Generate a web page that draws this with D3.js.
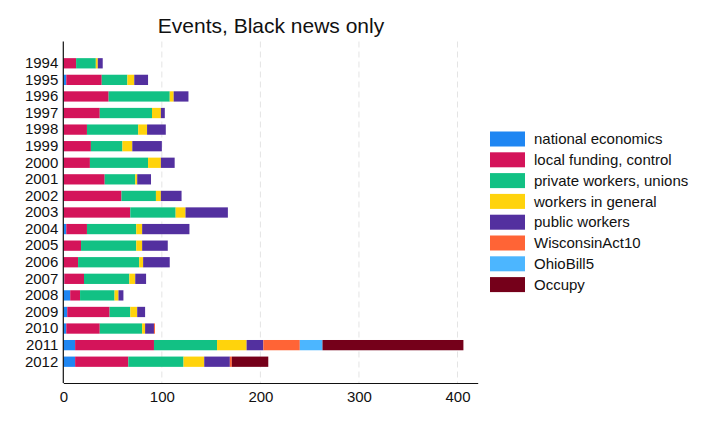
<!DOCTYPE html>
<html>
<head>
<meta charset="utf-8">
<script src="https://cdn.jsdelivr.net/npm/d3@7"></script>
<style>
  body { margin: 0; background: #fff; }
  text { font-family: "Liberation Sans", Arial, sans-serif; fill: #111; }
</style>
</head>
<body>
<div id="chart"></div>
<script>
// Years (rows)
const years = ["1994","1995","1996","1997","1998","1999","2000","2001","2002","2003",
               "2004","2005","2006","2007","2008","2009","2010","2011","2012"];

// Series labels and colours
const categories = ["national economics","local funding, control","private workers, unions",
                    "workers in general","public workers","WisconsinAct10","OhioBill5","Occupy"];
const colors = ["#1f86f2","#d4145a","#12c184","#ffd30c","#53309f","#ff6436","#4cb6ff","#75001a"];

// Values, one array per series (same order as years)
const nationalEconomics = [0,3,0,0,0,0,0,0,0,0,3,0,0,1,7,4,3,12,12];
const localFunding      = [13,36,46,37,24,28,27,42,59,68,21,18,15,20,10,43,34,80,54];
const privateWorkers    = [20,26,62,53,52,32,59,31,35,46,50,56,62,46,35,21,43,64,56];
const workersGeneral    = [2,7,4,9,9,10,13,2,5,10,6,6,4,6,4,7,3,30,21];
const publicWorkers     = [5,14,15,4,19,30,14,14,21,43,48,26,27,11,5,8,9,17,26];
const wisconsinAct10    = [0,0,0,0,0,0,0,0,0,0,0,0,0,0,0,0,1,37,2];
const ohioBill5         = [0,0,0,0,0,0,0,0,0,0,0,0,0,0,0,0,0,23,0];
const occupy            = [0,0,0,0,0,0,0,0,0,0,0,0,0,0,0,0,0,143,37];

const xTicks = [0, 100, 200, 300, 400];

const series = [nationalEconomics, localFunding, privateWorkers, workersGeneral,
                publicWorkers, wisconsinAct10, ohioBill5, occupy];

const rows = years.map((y, i) => {
    const r = { year: y };
    categories.forEach((c, j) => r[c] = series[j][i]);
    return r;
});

const stacked = d3.stack().keys(categories)(rows);

const width = 720, height = 432;
const plot = { left: 63.3, right: 477.7, top: 41.5, bottom: 383 };

const svg = d3.select("#chart").append("svg")
    .attr("width", width)
    .attr("height", height);

const x = d3.scaleLinear()
    .domain([0, 420.5])
    .range([plot.left, plot.right]);

const y = d3.scaleBand()
    .domain(years)
    .range([55, 370])
    .paddingInner(0.38)
    .paddingOuter(0.19);

// Grid lines
svg.append("g")
    .selectAll("line")
    .data(xTicks.slice(1))
    .join("line")
        .attr("x1", d => x(d))
        .attr("x2", d => x(d))
        .attr("y1", plot.top)
        .attr("y2", plot.bottom)
        .attr("stroke", "#e4e4e4")
        .attr("stroke-width", 1)
        .attr("stroke-dasharray", "6,4");

// Bars
svg.append("g")
    .selectAll("g")
    .data(stacked)
    .join("g")
        .attr("fill", (d, i) => colors[i])
    .selectAll("rect")
    .data(d => d.filter(s => s[1] > s[0]))
    .join("rect")
        .attr("x", d => x(d[0]))
        .attr("y", d => y(d.data.year))
        .attr("width", d => x(d[1]) - x(d[0]))
        .attr("height", y.bandwidth());

// Axes
const xAxis = svg.append("g")
    .attr("transform", `translate(0,${plot.bottom})`)
    .call(d3.axisBottom(x).tickValues(xTicks).tickSize(0).tickPadding(8));
xAxis.select(".domain").attr("stroke", "#111").attr("stroke-width", 1.2);
xAxis.selectAll("text").attr("font-size", 15).attr("font-family", "Liberation Sans, Arial, sans-serif").attr("fill", "#111");

const yAxis = svg.append("g")
    .attr("transform", `translate(${plot.left},0)`)
    .call(d3.axisLeft(y).tickSize(0).tickPadding(5));
yAxis.select(".domain").remove();
yAxis.selectAll("text").attr("font-size", 15).attr("font-family", "Liberation Sans, Arial, sans-serif").attr("fill", "#111");

svg.append("line")
    .attr("x1", plot.left).attr("x2", plot.left)
    .attr("y1", plot.top).attr("y2", plot.bottom)
    .attr("stroke", "#111").attr("stroke-width", 1.2);

// Title
svg.append("text")
    .attr("x", 271)
    .attr("y", 33)
    .attr("text-anchor", "middle")
    .attr("font-size", 21)
    .text("Events, Black news only");

// Legend
const legend = svg.append("g")
    .attr("transform", "translate(490,131.5)")
    .selectAll("g")
    .data(categories)
    .join("g")
        .attr("transform", (d, i) => `translate(0,${i * 20.8})`);

legend.append("rect")
    .attr("width", 35)
    .attr("height", 15)
    .attr("fill", (d, i) => colors[i]);

legend.append("text")
    .attr("x", 44)
    .attr("y", 7.5)
    .attr("dy", "0.35em")
    .attr("font-size", 15)
    .text(d => d);
</script>
</body>
</html>
